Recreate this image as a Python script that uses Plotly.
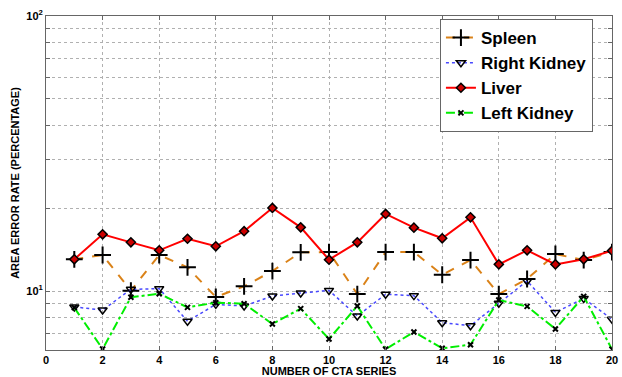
import plotly.graph_objects as go

series_x = list(range(1, 21))
spleen = [13.04, 13.52, 10.03, 13.52, 12.19, 9.51, 10.4, 11.82, 13.82, 13.85,
          9.75, 13.85, 13.85, 11.46, 12.96, 9.75, 11.06, 13.63, 12.96, 13.85]
right_kidney = [8.75, 8.53, 10.14, 10.2, 7.76, 8.94, 8.82, 9.59, 9.83, 10.05,
                8.11, 9.73, 9.62, 7.67, 7.48, 9.02, 10.88, 8.36, 9.40, 7.89]
liver = [13.04, 16.07, 15.03, 14.06, 15.49, 14.54, 16.5, 20.05, 17.04, 13.0,
         15.03, 19.06, 17.0, 15.55, 18.53, 12.5, 14.06, 12.5, 13.04, 14.02]
left_kidney = [8.70, 6.15, 9.49, 9.78, 8.72, 9.07, 8.99, 7.59, 8.63, 6.69,
               8.82, 6.14, 7.1, 6.19, 6.38, 9.27, 8.79, 7.28, 9.56, 6.14]

x_ticks = list(range(0, 21, 2))
y_grid = [7, 8, 9, 10, 20, 30, 40, 50, 60, 70, 80, 90, 100]
y_labels = ["", "", "", "10<sup>1</sup>", "", "", "", "", "", "", "", "", "10<sup>2</sup>"]

fig = go.Figure()
fig.add_trace(go.Scatter(
    x=series_x, y=spleen, name="Spleen", mode="lines+markers",
    line=dict(color="#DA8218", width=2, dash="dash"),
    marker=dict(symbol="cross-thin-open", size=12, line=dict(color="black", width=2), color="black")))
fig.add_trace(go.Scatter(
    x=series_x, y=right_kidney, name="Right Kidney", mode="lines+markers",
    line=dict(color="#4848FF", width=1.5, dash="dot"),
    marker=dict(symbol="triangle-down-open", size=8, line=dict(color="black", width=1.5), color="black")))
fig.add_trace(go.Scatter(
    x=series_x, y=liver, name="Liver", mode="lines+markers",
    line=dict(color="#FF0000", width=2),
    marker=dict(symbol="diamond", size=7, color="#CC0000", line=dict(color="black", width=1.5))))
fig.add_trace(go.Scatter(
    x=series_x, y=left_kidney, name="Left Kidney", mode="lines+markers",
    line=dict(color="#00EE00", width=2, dash="dashdot"),
    marker=dict(symbol="x-thin-open", size=5, line=dict(color="black", width=2), color="black")))

axis_font = dict(family="Liberation Sans", size=11, color="black")
tick_font = dict(family="Liberation Sans", size=11, color="black", weight="bold")
fig.update_layout(
    width=622, height=377,
    margin=dict(l=46, r=10, t=16, b=27, autoexpand=False),
    paper_bgcolor="white", plot_bgcolor="white",
    font=dict(family="Liberation Sans", color="black"),
    showlegend=True,
    legend=dict(x=0.696, y=0.991, xanchor="left", yanchor="top",
                bgcolor="white", bordercolor="#666666", borderwidth=1,
                font=dict(family="Liberation Sans", size=17, color="black", weight="bold"),
                tracegroupgap=0, itemwidth=30),
    xaxis=dict(range=[0, 20], tickvals=x_ticks, ticks="inside", ticklen=4,
               tickcolor="#666666", showline=True, linecolor="#666666", linewidth=1,
               mirror="ticks", showgrid=True, gridcolor="#B0B0B0", griddash="dot",
               gridwidth=1, zeroline=False, automargin=False, tickfont=tick_font,
               title=dict(text="<b>NUMBER OF CTA SERIES</b>", font=axis_font, standoff=0)),
    yaxis=dict(type="log", range=[0.7855, 2], tickvals=y_grid, ticktext=y_labels,
               ticks="inside", ticklen=4, tickcolor="#666666", showline=True,
               linecolor="#666666", linewidth=1, mirror="ticks", showgrid=True,
               gridcolor="#B0B0B0", griddash="dot", gridwidth=1, zeroline=False,
               automargin=False, tickfont=tick_font,
               title=dict(text="<b>AREA ERROR RATE (PERCENTAGE)</b>", font=axis_font, standoff=4)),
)
fig.write_html("out.html", config={"displayModeBar": False},
               post_script="document.body.style.margin='0';document.documentElement.style.overflow='hidden';")
